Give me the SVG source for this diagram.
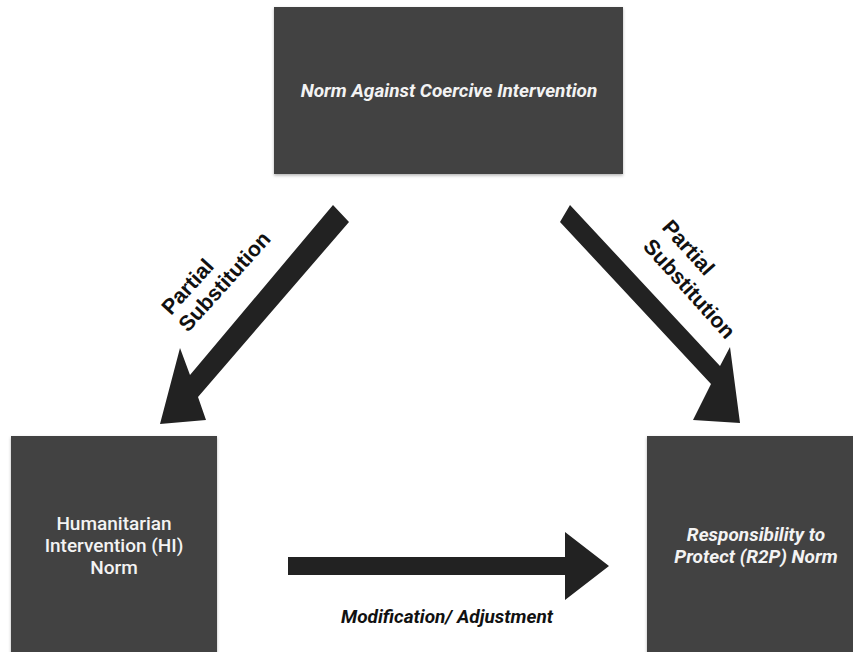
<svg xmlns="http://www.w3.org/2000/svg" width="853" height="652" viewBox="0 0 853 652">
  <defs>
    <filter id="sh" x="-10%" y="-10%" width="120%" height="120%">
      <feDropShadow dx="0" dy="1.5" stdDeviation="1.5" flood-color="#000" flood-opacity="0.3"/>
    </filter>
    <style>
      .box { fill: #434343; filter: url(#sh); }
      .bt { font-family: Roboto, "Liberation Sans", sans-serif; font-size: 19px; fill: #f3f3f3; text-anchor: middle; }
      .bi { font-weight: bold; font-style: italic; }
      .bm { font-weight: 500; }
      .arrow { fill: #222222; }
      .lbl { font-family: Roboto, "Liberation Sans", sans-serif; font-size: 19px; font-weight: bold; font-style: italic; fill: #111111; }
      .dl { font-family: "Liberation Sans", Arial, sans-serif; font-size: 21.5px; font-weight: bold; fill: #111111; }
    </style>
  </defs>
  <rect width="853" height="652" fill="#ffffff"/>

  <g id="connectors">
    <polygon class="arrow" points="333,205 349,222 198,397 206,420 160,424 180,348 190,375"/>
    <polygon class="arrow" points="570,205 720,366 730,347 740,423 693,420 711,384 560,222"/>
    <polygon class="arrow" points="288,557 565,557 565,532 609,566 565,600 565,575 288,575"/>
    <text class="dl" transform="translate(171,316) rotate(-48)">Partial</text>
    <text class="dl" transform="translate(188,333) rotate(-48)">Substitution</text>
    <text class="dl" transform="translate(661,228) rotate(48)">Partial</text>
    <text class="dl" transform="translate(642,247) rotate(48)">Substitution</text>
    <text class="lbl" x="447" y="623" text-anchor="middle">Modification/ Adjustment</text>
  </g>

  <g id="node-top">
    <rect class="box" x="274" y="7" width="349" height="167"/>
    <text class="bt bi" x="449" y="97">Norm Against Coercive Intervention</text>
  </g>

  <g id="node-hi">
    <rect class="box" x="11" y="436" width="206" height="230"/>
    <text class="bt bm" x="114" y="530">Humanitarian</text>
    <text class="bt bm" x="114" y="552">Intervention (HI)</text>
    <text class="bt bm" x="114" y="574">Norm</text>
  </g>

  <g id="node-r2p">
    <rect class="box" x="647" y="436" width="220" height="230"/>
    <text class="bt bi" x="756" y="541">Responsibility to</text>
    <text class="bt bi" x="756" y="563">Protect (R2P) Norm</text>
  </g>
</svg>
